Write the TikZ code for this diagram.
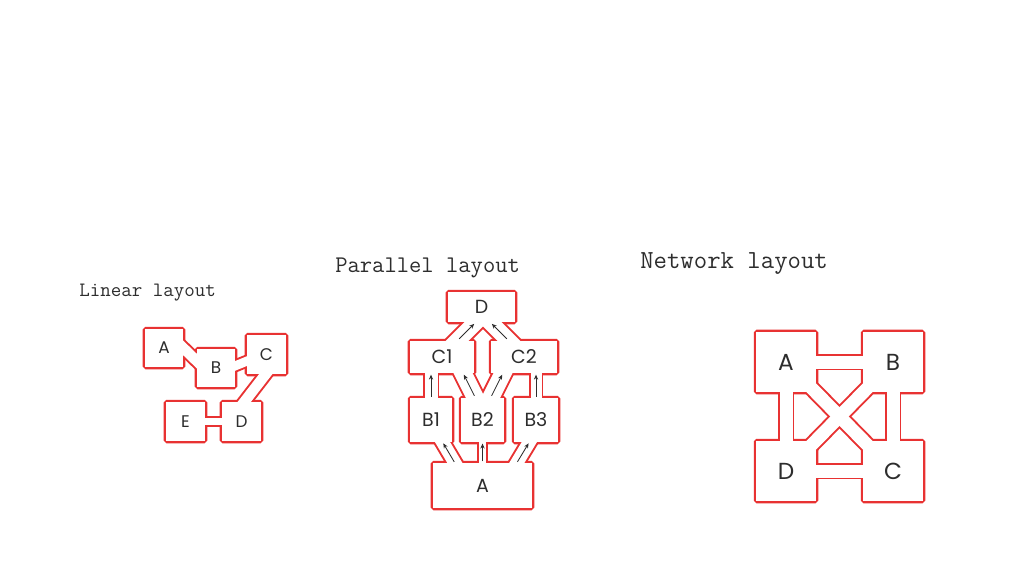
\documentclass[tikz,border=0pt]{standalone}
\usepackage{fontspec}
\newfontfamily\hand{Poppins}
\usetikzlibrary{calc,arrows.meta}
\pgfdeclarelayer{rim}
\pgfdeclarelayer{hollow}
\pgfsetlayers{rim,hollow,main}
\definecolor{pen}{RGB}{232,50,50}
\definecolor{ink}{RGB}{45,45,45}
\newcommand\px{0.7113pt}
\tikzset{
  cell/.style 2 args={inner sep=0pt, minimum width=#1*\px, minimum height=#2*\px, text=ink},
  small/.style={font=\hand\fontsize{12}{14}\selectfont},
  mid/.style={font=\hand\fontsize{13.5}{15}\selectfont},
  big/.style={font=\hand\fontsize{16.5}{18}\selectfont},
  title/.style={anchor=base west, inner sep=0pt, text=ink},
  rim/.style={draw=pen, fill=pen, line width=2.8pt, rounded corners=1pt},
  flow/.style={-{Stealth[length=3.5pt,width=3pt]}, line width=0.6pt, draw=ink}
}
% box outline: red rim below, white inside above
\newcommand\cellframe[1]{%
  \begin{pgfonlayer}{rim}\draw[rim] (#1.south west) rectangle (#1.north east);\end{pgfonlayer}
  \begin{pgfonlayer}{hollow}\fill[white] (#1.south west) rectangle (#1.north east);\end{pgfonlayer}}
% channel between two boxes
\newcommand\chan[3][13]{%
  \begin{pgfonlayer}{rim}\draw[pen, line width=#1*\px+2.8pt] #2 -- #3;\end{pgfonlayer}
  \begin{pgfonlayer}{hollow}\draw[white, line width=#1*\px] #2 -- #3;\end{pgfonlayer}}
% channel with an arrow in it
\newcommand\lane[7][13]{%
  \coordinate (lo) at ($(#2)+(#3)$);
  \coordinate (hi) at ($(#4)+(#5)$);
  \chan[#1]{(lo)}{(hi)}
  \draw[flow] ($(lo)!#6!(hi)$) -- ($(lo)!#7!(hi)$);}

\begin{document}
\begin{tikzpicture}[x=0.025cm, y=-0.025cm]
  \useasboundingbox (0,0) rectangle (1024,586);

  % titles
  \node[title, font=\ttfamily\fontsize{14.5}{16}\selectfont] (t1) at (79,296) {Linear layout};
  \node[title, font=\ttfamily\fontsize{17}{19}\selectfont] (t2) at (335,272) {Parallel layout};
  \node[title, font=\ttfamily\fontsize{18.5}{20}\selectfont] (t3) at (640,268) {Network layout};

  % linear layout
  \node[cell={38}{38}, small] (lA) at (164,348) {A};
  \node[cell={38}{38}, small] (lB) at (216,368) {B};
  \node[cell={39}{39}, small] (lC) at (266.5,354.5) {C};
  \node[cell={39}{39}, small] (lE) at (185.5,421.5) {E};
  \node[cell={39}{39}, small] (lD) at (241.5,421.5) {D};
  \foreach \n in {lA,lB,lC,lE,lD} \cellframe{\n};
  \chan[10.5]{($(lA)+(11,-8)$)}{($(lB)+(-11,1)$)}
  \chan[9]{($(lB)+(9,2)$)}{($(lC)+(-9.5,2.5)$)}
  \chan[10.5]{($(lC)+(5.5,11.5)$)}{($(lD)+(-3.5,-11.5)$)}
  \chan[7]{(lE.center)}{(lD.center)}

  % parallel layout
  \node[cell={67}{30}, mid] (pD) at (481.5,307) {D};
  \node[cell={64}{32}, mid] (pC1) at (442,357) {C1};
  \node[cell={66}{32}, mid] (pC2) at (524,357) {C2};
  \node[cell={42}{44}, mid] (pB1) at (431,420) {B1};
  \node[cell={43}{44}, mid] (pB2) at (482.5,420) {B2};
  \node[cell={44}{44}, mid] (pB3) at (536,420) {B3};
  \node[cell={99}{45}, mid] (pA) at (482.5,485.5) {A};
  \foreach \n in {pD,pC1,pC2,pB1,pB2,pB3,pA} \cellframe{\n};
  \lane{pA}{-20.5,-10.5}{pB1}{5,11}{.3}{.72}
  \lane[7]{pB2 |- pA}{0,0}{pB2}{0,0}{.37}{.64}
  \lane{pA}{27,-10.5}{pB3}{0,11}{.3}{.72}
  \lane{pB1}{0,0}{pB1 |- pC1}{0,0}{.37}{.72}
  \lane[11]{pB3}{0,0}{pB3 |- pC2}{0,0}{.37}{.72}
  \lane[17]{pB2}{-1.5,-11}{pC1}{17,8}{.3}{.78}
  \lane[17]{pB2}{2.5,-11}{pC2}{-17,8}{.3}{.78}
  \lane[16]{pC1}{7,-8}{pD}{1.5,8}{.3}{.74}
  \lane[16]{pC2}{-7,-8}{pD}{1.5,8}{.3}{.74}

  % network layout
  \node[cell={60}{60}, big] (nA) at (786,362) {A};
  \node[cell={60}{60}, big] (nB) at (893,362) {B};
  \node[cell={60}{60}, big] (nD) at (786,471) {D};
  \node[cell={60}{60}, big] (nC) at (893,471) {C};
  \foreach \n in {nA,nB,nD,nC} \cellframe{\n};
  \foreach \p/\q in {nA/nB,nA/nD,nB/nC,nD/nC,nA/nC,nB/nD}
    \chan{(\p.center)}{(\q.center)};
\end{tikzpicture}
\end{document}
